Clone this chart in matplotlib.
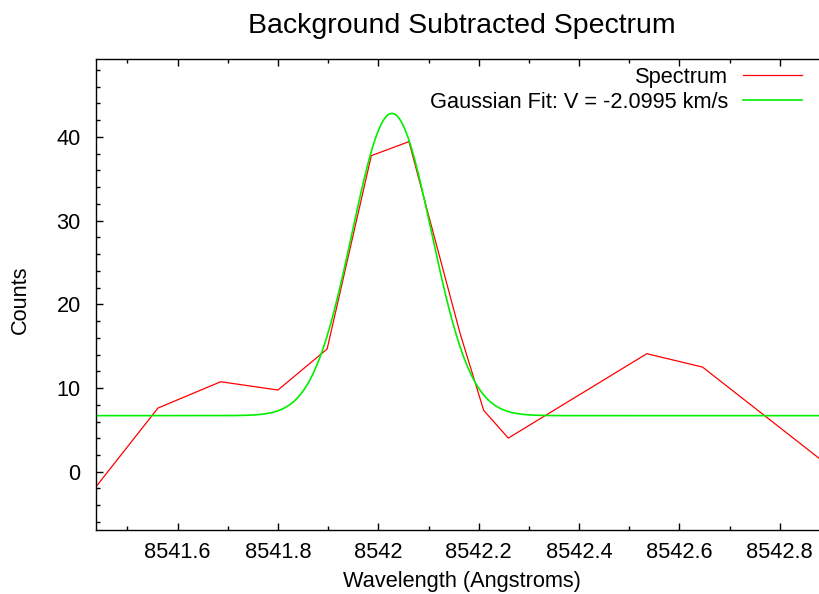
import numpy as np
import matplotlib
matplotlib.use("Agg")
import matplotlib.pyplot as plt
from matplotlib.ticker import MultipleLocator, FuncFormatter

plt.rcParams['font.family'] = ['Liberation Sans', 'DejaVu Sans']

# Spectrum data
wavelength = [8541.437, 8541.561, 8541.686, 8541.800, 8541.898, 8541.986,
              8542.061, 8542.163, 8542.210, 8542.259, 8542.535, 8542.646, 8542.880]
counts = [-1.83, 7.61, 10.75, 9.76, 14.66, 37.75,
          39.43, 16.5, 7.32, 4.02, 14.1, 12.5, 1.52]

# Gaussian fit parameters
fit_base = 6.7
fit_amp = 36.1
fit_center = 8542.027
fit_sigma = 0.079
fit_label = "Gaussian Fit: V = -2.0995 km/s"

x_min, x_max = 8541.4375, 8542.88
y_min, y_max = -6.9, 49.3

fig = plt.figure(figsize=(8.2, 5.94), dpi=100)
ax = fig.add_axes([96/820, 1-529.5/594, 1-96/820, (529.5-59)/594])

ax.plot(wavelength, counts, color='#ff0000', lw=0.9, label='Spectrum')
xf = np.linspace(x_min, x_max, 600)
yf = fit_base + fit_amp*np.exp(-(xf-fit_center)**2/(2*fit_sigma**2))
ax.plot(xf, yf, color='#00f000', lw=1.2, label=fit_label)

ax.set_xlim(x_min, x_max)
ax.set_ylim(y_min, y_max)

ax.xaxis.set_major_locator(MultipleLocator(0.2))
ax.xaxis.set_minor_locator(MultipleLocator(0.1))
ax.yaxis.set_major_locator(MultipleLocator(10))
ax.yaxis.set_minor_locator(MultipleLocator(2))
ax.xaxis.set_major_formatter(FuncFormatter(lambda v, p: '%g' % round(v, 4)))
ax.yaxis.set_major_formatter(FuncFormatter(lambda v, p: '%g' % v))

ax.tick_params(which='both', direction='in', top=True, right=False, width=1.0,
               labelsize=15.7)
ax.tick_params(which='major', length=5.2)
ax.tick_params(which='minor', length=2.8)
ax.tick_params(axis='x', pad=9)
ax.tick_params(axis='y', pad=11)
ax.spines['right'].set_visible(False)
for s in ['left', 'top', 'bottom']:
    ax.spines[s].set_linewidth(1.0)

ax.set_xlabel('Wavelength (Angstroms)', fontsize=15.7)
ax.xaxis.set_label_coords((462-96)/724, (529.5-582)/470.5)
ax.xaxis.label.set_va('center')
ax.set_ylabel('Counts', fontsize=15.7)
ax.yaxis.set_label_coords((20-96)/724, (529.5-300)/470.5)
ax.yaxis.label.set_va('center')

fig.text(462/820, 1-26/594, 'Background Subtracted Spectrum', fontsize=20.5,
         ha='center', va='center')

ax.legend(loc='upper right', bbox_to_anchor=(802/820, 1-67/594),
          bbox_transform=fig.transFigure, frameon=False, markerfirst=False,
          fontsize=15.7, handlelength=2.7, handletextpad=0.7, borderpad=0,
          borderaxespad=0, labelspacing=0.17)

fig.savefig('out.png', dpi=100)
